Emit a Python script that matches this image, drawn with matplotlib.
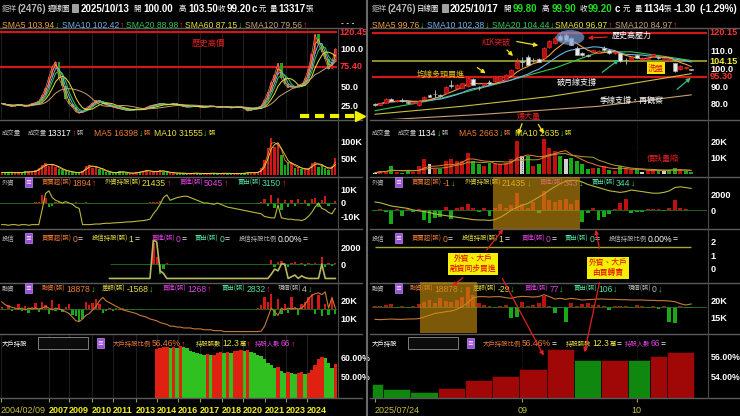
import numpy as np
import pandas as pd
import matplotlib
matplotlib.use("Agg")
import matplotlib.pyplot as plt
from matplotlib.patches import Rectangle, Ellipse, FancyArrowPatch
from matplotlib.lines import Line2D
import matplotlib.transforms as mtrans

# ---------------- weekly chart (left), one sample per ~10 weeks ----------------
wk_close = [27, 25, 24, 23, 25, 26, 24, 23, 25, 27,
            28, 30, 38, 47, 62, 75, 82, 60, 50, 33,
            26, 22, 16, 14, 17, 21, 24, 28, 31, 30,
            27, 25, 24, 22, 21, 20, 19, 18, 18, 19,
            20, 19, 20, 22, 24, 25, 26, 27, 26, 25,
            26, 27, 25, 24, 23, 22, 23, 24, 23, 22,
            22, 23, 24, 23, 22, 22, 23, 22, 21, 22,
            23, 22, 20, 17, 19, 21, 22, 24, 32, 42,
            55, 65, 80, 60, 52, 48, 50, 47, 51, 50,
            60, 72, 92, 118, 105, 95, 85, 72, 82, 99.2]
wk_vol = [8, 6, 10, 7, 5, 9, 6, 12, 8, 10,
          14, 20, 30, 35, 28, 33, 25, 18, 15, 12,
          10, 8, 6, 9, 12, 28, 30, 22, 25, 18,
          14, 10, 8, 6, 7, 12, 8, 6, 5, 6,
          8, 10, 12, 15, 10, 8, 12, 14, 10, 8,
          7, 6, 5, 6, 5, 4, 5, 6, 5, 4,
          5, 4, 6, 5, 4, 5, 6, 4, 5, 4,
          4, 5, 6, 8, 7, 6, 9, 20, 45, 80,
          110, 85, 95, 60, 30, 40, 35, 20, 25, 18,
          15, 20, 35, 40, 25, 30, 20, 15, 28, 50]
wk_fi_hold = [-16, -16, -16.5, -16, -16, -16.5, -16, -16, -16.5, -16,
              -16, -16, -5, 7, 9, 4, 2, 1, 0, 1,
              0, -1, -3, -4, -16, -16, -16, -15.8, -15.5, -15.6,
              -15.2, -15, -15, -14.8, -14.6, -14.5, -14.3, -14, -14, -13.8,
              -13.5, -13.2, -13, -12.6, -12, -8, -5, -1, 4, 6,
              2, 3, 4, 4.5, 5, 5, 4, 3, 2, 1,
              0, 0, -0.5, -1, 0, -1, -2, -3, -3.5, -4,
              -4.5, -5, -5.5, -6, -6.5, -7, -7.5, -8, -10, -10.5,
              -11, -11, -1.5, -11, -11.5, -12, -12, -12.5, -12.5, -13,
              -12, -10, -7, -3, 0, -4, -5, -7, -8, -4]
wk_fi_net = [0.2, -0.1, 0.3, -0.2, 0.1, 0.2, -0.1, 0.1, 0.2, -0.2,
             0.5, 1, 6, 4, -3, -2, 1, 0.5, -0.5, 0.3,
             0.2, -0.3, 0.4, -0.2, 0.3, 0.5, -0.4, 0.2, 0.3, -0.2,
             0.1, 0.2, -0.1, 0.1, 0.2, -0.1, 0.1, 0.1, -0.1, 0.2,
             0.1, 0.3, -0.2, 0.2, 0.4, 0.6, 1, 1.5, -0.5, 0.3,
             0.2, -0.2, 0.1, 0.2, -0.1, 0.1, 0.1, -0.1, 0.1, 0.1,
             0.1, -0.1, 0.1, 0.1, -0.1, 0.1, 0.1, -0.1, 0.1, 0.1,
             0.2, -0.2, 0.3, -0.3, 0.2, 0.3, -0.5, 1, 3, -2,
             6, -4, 4, -5, 2, -3, 2, -2, 3, -1,
             2, -2, 3, 4, -3, 2, 5, -2, -1, 1.5]
wk_it_start = 32
wk_it_hold = [-1700, -1700, -1700, -1700, -1700, -1700, -1700, -1700, -1700, -1700,
              -1700, -1700, -1700, 2800, 2600, -800, -1100, -1700, -1700, -1700,
              -1700, -1700, -1700, -1700, -1700, -1700, -1700, -1700, -1700, -1700,
              -1700, -1700, -1700, -1700, -1700, -1700, -1700, -1700, -1700, -1700,
              -1700, -1700, -1700, -1700, -1700, -1700, -1700, -1700, -1200, -600,
              -800, 0, 0, -1700, -1500, -1300, -1700, -1400, -1600, -1700,
              -1700, -1700, -1700, 0, -1700, -1700, -1700, -1700]
wk_it_net = [50, -30, 20, 0, 30, -20, 0, 10, -10, 0, 20, -30, 40,
             2500, 800, -1200, -600, 100,
             0, 20, -10, 0, 0, 10, 0, -20, 0, 10, 0, 0, 10, -10, 0,
             0, 20, 0, -10, 0, 0, 10, 0, 0, -10, 0, 20, 0, -30, 50,
             500, -300, 200, 400, -200, -400, 100, 200, -100, 150,
             -200, 100, -150, 100, 50, 800, -300, 100, -200, 100]
wk_mg_bal = [19.5, 18, 17, 16.5, 16, 15.5, 16, 15, 16, 15.5,
             16, 15.5, 16, 17, 16, 15, 16, 15.5, 15, 14,
             13, 11, 9, 8.5, 10, 12, 13, 15, 17, 20,
             22, 20, 19, 18, 17, 16, 15, 14.5, 14, 13.5,
             13, 12, 11.5, 11, 10, 9.5, 9, 8, 7.5, 7,
             6, 6, 5.5, 5.5, 5, 5, 5, 4.5, 4.5, 4.5,
             4, 4, 4, 3.5, 3.5, 3.5, 3, 3, 3, 3,
             3, 3, 3, 3, 3, 3, 3, 3.2, 6, 11,
             16, 14, 12, 16, 15, 16, 15.5, 16, 15.5, 16,
             18, 21, 23, 24, 24.5, 23.5, 25, 16, 22, 16]
wk_mg_net = [0.5, -0.3, 0.8, -0.5, 0.3, 1.0, -0.4, 0.6, -0.8, 0.4,
             1.2, -0.6, 1.5, 0.8, -1.0, 1.8, -0.5, 1.0, -0.7, 0.5,
             1.0, -1.2, -1.5, -2.5, -2.0, 1.5, 0.8, 1.2, 2.0, 1.0,
             -0.8, -0.5, 0.3, -0.4, 0.2, -0.3, 0.2, -0.2, 0.1, -0.2,
             0.1, -0.2, 0.1, -0.1, 0.1, -0.1, 0.1, -0.1, 0.1, -0.1,
             0.1, -0.1, 0.1, -0.1, 0.05, -0.1, 0.05, -0.05, 0.05, -0.05,
             0.05, -0.05, 0.05, -0.05, 0.05, -0.05, 0.05, -0.05, 0.05, -0.05,
             0.05, -0.05, 0.05, -0.1, 0.1, -0.1, 0.2, 0.8, 2.5, 1.5,
             3.0, -1.5, 2.0, -1.0, 1.0, -0.8, 2.5, 0.5, -1.2, 1.0,
             1.5, 2.5, 3.0, -1.0, 2.8, -1.5, 1.0, -1.2, 2.0, -1.0]
wk_big_start = 46
wk_big = [64, 64.5, 65, 65, 64.5, 65, 64.5, 65.5, 65, 64.5,
          63, 62.5, 62, 61.5, 61, 61.5, 61, 61, 62, 62.5,
          62, 62.5, 62, 63, 63, 63.5, 63, 63.5, 62.5, 62,
          61, 60.5, 59, 57, 56, 54.5, 55, 53, 52, 52.5,
          52, 51.5, 52, 52.5, 51.5, 52, 53.5, 56, 59, 60,
          59.5, 57, 54.5, 56.46]
wk_ticks = [-0.2, 14.0, 20.0, 26.8, 33.0, 39.8, 46.1, 52.3, 58.8, 65.4, 71.6, 78.1, 84.4, 90.6]
wk_tick_labels = ['2004/02/09', '2007', '2009', '2010', '2011', '2013', '2014',
                  '2016', '2017', '2018', '2020', '2021', '2023', '2024']

# ---------------- daily chart (right), 2025/07/24 - 2025/10/17 ----------------
d_open = [79.6, 79.4, 80.4, 82.8, 81.3, 82.3, 81.2, 80.2, 79.2, 82.5,
          85.0, 85.5, 84.8, 86.0, 90.8, 88.9, 89.0, 89.8, 94.2, 89.1,
          90.4, 92.2, 92.6, 92.6, 93.6, 96.3, 100.0, 104.2, 106.6, 104.8,
          105.3, 105.9, 111.9, 114.4, 118.1, 119.0, 117.2, 111.5, 108.9, 107.5,
          109.5, 108.9, 111.7, 110.4, 108.7, 108.7, 104.9, 104.8, 107.5, 105.2,
          105.5, 106.8, 106.6, 104.8, 104.7, 103.0, 99.6, 100.0, 99.8]
d_high = [80.3, 80.6, 83.2, 83.0, 82.2, 83.0, 81.5, 81.0, 82.0, 84.3,
          85.5, 88.0, 85.6, 89.8, 93.6, 91.0, 91.8, 95.0, 94.6, 90.0,
          91.8, 93.6, 94.8, 95.8, 96.6, 99.5, 106.0, 106.6, 107.5, 106.0,
          105.8, 112.0, 116.0, 118.5, 119.2, 120.3, 118.0, 112.5, 109.5, 108.2,
          110.6, 110.3, 112.5, 110.8, 109.6, 109.0, 106.0, 106.8, 108.0, 106.2,
          106.3, 108.2, 106.9, 105.9, 105.5, 103.3, 101.8, 101.0, 99.9]
d_low = [78.8, 79.0, 80.2, 81.3, 81.0, 81.2, 80.2, 79.8, 78.5, 82.0,
         83.6, 83.0, 84.0, 85.8, 88.9, 88.5, 88.8, 89.5, 90.5, 88.0,
         90.0, 91.0, 92.3, 92.4, 93.3, 96.0, 99.8, 101.0, 101.8, 103.5,
         103.5, 105.5, 111.5, 114.0, 115.5, 115.8, 113.0, 107.3, 107.0, 106.5,
         109.0, 108.5, 110.0, 108.2, 108.4, 103.8, 102.5, 104.5, 105.6, 105.0,
         105.2, 106.5, 105.5, 104.5, 104.4, 98.0, 99.3, 99.7, 98.9]
d_close = [79.4, 80.3, 82.8, 81.7, 81.9, 81.6, 80.5, 80.8, 81.7, 84.0,
           84.0, 85.3, 84.4, 89.3, 90.2, 90.7, 91.5, 94.5, 90.8, 88.9,
           91.5, 91.3, 94.5, 95.5, 96.3, 99.1, 103.8, 103.8, 102.0, 104.5,
           103.8, 111.5, 115.3, 117.2, 116.2, 116.2, 113.4, 107.7, 107.3, 107.1,
           110.2, 110.0, 110.4, 108.5, 109.3, 104.0, 104.6, 106.5, 105.9, 105.9,
           106.0, 107.9, 105.7, 105.7, 105.3, 98.3, 101.5, 100.8, 99.2]
d_vol = [1.0, 2.0, 2.0, 5.0, 1.5, 1.0, 2.5, 1.5, 5.0, 9.0,
         6.0, 3.0, 3.0, 8.0, 9.0, 8.0, 8.0, 13.0, 8.0, 6.0,
         5.0, 7.0, 6.0, 6.0, 7.0, 9.0, 20.0, 11.0, 11.0, 5.0,
         6.0, 21.0, 16.0, 14.0, 11.0, 9.0, 10.0, 8.0, 6.0, 3.5,
         4.0, 4.0, 5.0, 2.5, 2.0, 5.0, 3.0, 2.5, 3.0, 1.5,
         2.0, 3.0, 2.5, 2.0, 2.0, 4.0, 3.0, 2.0, 1.134]
d_fi_net = [-100, 100, -200, -1700, 100, -700, 150, -200, 100, -1300,
            -1600, -1000, -900, 400, -1100, 300, 400, 700, 300, -300,
            300, -800, 200, 700, 300, 600, 2100, 700, 300, 1000,
            -400, 2400, 1300, 1000, 1200, 1400, 700, 1300, -1500, -400,
            300, -1200, -900, -500, 100, 900, 1400, -400, -300, -200,
            100, 150, 100, -100, 200, 1300, 200, 100, -1]
d_fi_hold = [1000, 900, 700, 500, 400, 300, 200, 0, -100, -200, -300,
             -500, -600, -700, -800, -900, -1000, -1100, -1200, -1250, -1250, -1300,
             -1200, -900, -500, 0, 300, 600, 800, 1200, 1600, 2000, 2500,
             2900, 3300, 3600, 3700, 3700, 3500, 3200, 3000, 2800, 2600, 2400,
             2300, 2200, 2300, 2500, 2400, 2300, 2200, 2100, 2100, 2200, 2400, 2800, 2900, 2800, 2700]
d_it_hold = 1.6
d_mg_bal = [14.5, 14.4, 14.5, 14.6, 14.5, 14.5, 14.6, 14.6,
            14.7, 15.2, 15.7, 16.3, 16.5, 16.8, 17, 17.5, 18.3, 19.5, 21,
            21.3, 21.3, 21.2, 21.3, 21.3, 21, 20.8, 21.2, 21.4, 21.3, 21.2, 21.3,
            21.9, 21.3, 20.6, 20.8, 20.5, 20.8, 20.6, 20.3, 20.4, 20.5,
            20.6, 20.6, 20.5, 20.5, 20.4, 20.4, 20.3, 20.3, 20.3, 20.2,
            20.2, 20.1, 20.1, 20, 19.8, 19.2, 18.8, 19.1]
d_mg_net = [0.3, 0.2, 0.5, 0.8, -0.3, 0.3, -0.3, 0.2, 0.8, 1.5,
            2, 1.2, 2.5, 1.8, 1.5, 2, 3, 6, 3.5, 1,
            0.5, 0.3, -0.3, 0.3, 0.4, -3.5, -3, 1.5, 0.3, 0.5,
            1, 3.3, 0.3, -2, -0.3, -4.5, 1, 0.3, 0.8, 1,
            0.5, 0.5, 0.3, -1, 0.3, 0.3, 0.3, -0.3, 0.5, 0.3,
            -0.3, 0.2, -0.8, 0.3, -4.5, -5, 0.3, -0.3, -0.5]
sma20_i = [0, 11, 23, 33, 41, 47, 53, 58]
sma20_v = [76.0, 82.2, 91.7, 100.2, 109.2, 109.4, 106.8, 104.44]
sma60_i = [0, 16, 32, 44, 58]
sma60_v = [74.0, 78.5, 84.0, 89.8, 96.97]
sma120_i = [0, 20, 41, 58]
sma120_v = [70.5, 74.0, 78.5, 84.97]
big_week_start = [0, 2, 7, 12, 17, 22, 27, 32, 37, 42, 47, 51, 54]
big_week_days = [2, 5, 5, 5, 5, 5, 5, 5, 5, 5, 4, 3, 5]
big_week_val = [53.3, 52.8, 52.5, 52.9, 53.7, 54.1, 54.8, 56.8, 55.70, 55.72, 55.68, 56.1, 56.46]
d_ticks = [0, 27, 48]
d_tick_labels = ['2025/07/24', '09', '10']

# ---------------- styling ----------------
W, H = 740, 416
NUM = ['Liberation Sans Narrow', 'Liberation Sans', 'Noto Sans CJK TC', 'DejaVu Sans']
CJK = ['Noto Sans CJK TC', 'DejaVu Sans']
WH, GY, RD, GN = '#ffffff', '#b8b8b8', '#ff2828', '#20e020'
OR, YL, MG, TL = '#ee7a34', '#e8e040', '#e040e0', '#50e0a0'
UPC, DNC = '#d01818', '#18a818'

fig = plt.figure(figsize=(7.4, 4.16), dpi=100, facecolor='black')
renderer = fig.canvas.get_renderer()


def fx(x):
    return x / W


def fy(y):
    return 1 - y / H


def is_cjk(s):
    return any(ord(ch) > 0x2E00 for ch in s)


def put(x, y, s, c, size=None, bold=False, **kw):
    cj = is_cjk(s)
    if size is None:
        size = 4.6 if cj else 6.2
    return fig.text(fx(x), fy(y), s, color=c, fontsize=size, family=CJK if cj else NUM,
                    fontweight='bold' if bold else 'normal', ha='left', va='center_baseline', **kw)


def group(x, y, parts, big=False):
    for s, c in parts:
        if big:
            t = put(x, y, s, c, size=5.4 if is_cjk(s) else 7.0, bold=not is_cjk(s))
        else:
            t = put(x, y, s, c)
        x += t.get_window_extent(renderer).width + 0.5


def right_ticks(ax):
    ax.yaxis.tick_right()
    ax.tick_params(axis='y', length=0, pad=2.5, labelsize=6.6, labelcolor='white')


def panel(x0, x1, y0, y1):
    ax = fig.add_axes([fx(x0), fy(y1), (x1 - x0) / W, (y1 - y0) / H])
    ax.set_facecolor('black')
    for s in ax.spines.values():
        s.set_visible(False)
    ax.tick_params(axis='x', bottom=False, labelbottom=False)
    right_ticks(ax)
    return ax


def ylab(ax, vals, labels, size=6.6):
    ax.set_yticks(vals, labels)
    for t in ax.get_yticklabels():
        t.set_family(NUM)
        t.set_fontweight('bold')
        t.set_fontsize(size)


def side_label(ax, val, s, c):
    tr = mtrans.blended_transform_factory(ax.transAxes, ax.transData)
    ax.text(1.008, val, s, color=c, transform=tr, fontsize=6.6, family=NUM,
            fontweight='bold', va='center', ha='left', clip_on=False)


def arrow(p0, p1, c, lw=0.9, ms=6):
    fig.add_artist(FancyArrowPatch((fx(p0[0]), fy(p0[1])), (fx(p1[0]), fy(p1[1])),
                                   transform=fig.transFigure, arrowstyle='-|>',
                                   mutation_scale=ms, color=c, lw=lw, zorder=12))


def icon(x, y):
    fig.add_artist(Rectangle((fx(x), fy(y + 5)), 7 / W, 10 / H, transform=fig.transFigure,
                             facecolor='#9a50d8', edgecolor='#c090f0', lw=0.5, zorder=4))
    fig.text(fx(x + 3.5), fy(y), '≡', color='white', fontsize=5, ha='center', va='center', zorder=5)


PY = [(29, 119), (121, 176), (178, 228), (230, 282), (284, 333), (335, 398)]
LX, RX = (0, 337), (372, 707)

# ================= LEFT: weekly =================
n = len(wk_close)
xw = np.arange(n)
cw = np.array(wk_close, float)
prev = np.r_[cw[0], cw[:-1]]
up_w = cw >= prev

axp = panel(LX[0], LX[1], *PY[0])
axp.set_xlim(-0.5, n - 0.5)
axp.set_ylim(6.6, 125)
for t in wk_ticks:
    axp.axvline(t, color='#262626', lw=0.6)
axp.axhline(120.45, color='#d01818', lw=1.6)
axp.axhline(75.40, color='#d01818', lw=1.6)
hgt = np.where(np.abs(cw - prev) < 0.4, 0.4, cw - prev)
axp.bar(xw, hgt, bottom=prev, width=0.75, color=np.where(up_w, UPC, DNC), lw=0, zorder=3)
axp.plot(xw, cw, color='#e88080', lw=0.5, zorder=3)
s = pd.Series(cw)
for w, col in zip([2, 3, 4, 6, 12], ['#f0a040', '#70b0e8', '#30c850', '#e8e040', '#c8a070']):
    axp.plot(xw, s.rolling(w, min_periods=1).mean(), color=col, lw=0.7, zorder=4)
ylab(axp, [100, 50, 25], ['100.0', '50.0', '25.0'])
side_label(axp, 120.45, '120.45', '#ff3030')
side_label(axp, 75.40, '75.40', '#ff3030')
axp.text(0.57, 106, '歷史高價', color='#e02020', fontsize=6, family=CJK, va='center',
         transform=mtrans.blended_transform_factory(axp.transAxes, axp.transData))

axv = panel(LX[0], LX[1], *PY[1])
axv.set_xlim(-0.5, n - 0.5)
axv.set_ylim(-3, 162)
axv.bar(xw, wk_vol, width=0.7, color=np.where(up_w, UPC, DNC), lw=0)
sv = pd.Series(wk_vol, dtype=float)
axv.plot(xw, sv.rolling(2, min_periods=1).mean(), color=OR, lw=0.6)
axv.plot(xw, sv.rolling(3, min_periods=1).mean(), color=YL, lw=0.6)
ylab(axv, [100, 50], ['100K', '50K'])

axf = panel(LX[0], LX[1], *PY[2])
axf.set_xlim(-0.5, n - 0.5)
axf.set_ylim(-18.5, 18.5)
axf.axhline(0, color='#1e7a1e', lw=0.6)
fn = np.array(wk_fi_net)
axf.bar(xw, fn, width=0.7, color=np.where(fn > 0, UPC, DNC), lw=0)
axf.plot(xw, wk_fi_hold, color='#b8b840', lw=0.8)
ylab(axf, [10, 0, -10], ['10K', '0', '-10K'])

axi = panel(LX[0], LX[1], *PY[3])
axi.set_xlim(-0.5, n - 0.5)
axi.set_ylim(-2117, 4000)
xi = np.arange(wk_it_start, wk_it_start + len(wk_it_hold))
inet = np.array(wk_it_net)
axi.hlines(0, xi[0], xi[-1], color='#1e7a1e', lw=0.6)
axi.bar(xi, inet, width=0.7, color=np.where(inet > 0, UPC, DNC), lw=0)
axi.plot(xi, wk_it_hold, color='#b8b860', lw=1.2)
ylab(axi, [2000, 0], ['2000', '0'])

axm = panel(LX[0], LX[1], *PY[4])
axm.set_xlim(-0.5, n - 0.5)
axm.set_ylim(2.2, 29.4)
axm2 = axm.twinx()
axm2.set_ylim(-4.9, 5.1)
axm2.axis('off')
mn = np.array(wk_mg_net)
axm2.axhline(0, color='#1e7a1e', lw=0.6)
axm2.bar(xw, mn, width=0.7, color=np.where(mn > 0, UPC, DNC), lw=0)
axm.set_zorder(axm2.get_zorder() + 1)
axm.patch.set_visible(False)
axm.plot(xw, wk_mg_bal, color='#c87838', lw=0.8)
right_ticks(axm)
ylab(axm, [20, 10], ['20K', '10K'])

axb = panel(LX[0], LX[1], *PY[5])
axb.set_xlim(-0.5, n - 0.5)
axb.set_ylim(39.5, 71)
xb = np.arange(wk_big_start, wk_big_start + len(wk_big))
bv = np.array(wk_big)
bprev = np.r_[bv[0] - 1, bv[:-1]]
axb.bar(xb, bv, width=1.0, color=np.where(bv >= bprev, '#e02010', '#30c020'), lw=0)
for t in wk_ticks:
    axb.axvline(t, color='#262626', lw=0.6, zorder=0)
ylab(axb, [60, 50], ['60.00%', '50.00%'], size=6.3)
axb.set_xticks(wk_ticks, wk_tick_labels)
axb.tick_params(axis='x', bottom=True, labelbottom=True, length=3, color='#90a050',
                labelsize=6.5, labelcolor='#f0f020', pad=3)
for i, t in enumerate(axb.get_xticklabels()):
    t.set_family(NUM)
    t.set_ha('left')
    t.set_fontweight('normal' if i == 0 else 'bold')
    if i == 0:
        t.set_color('#c8c040')

# ================= RIGHT: daily =================
m = len(d_close)
xd = np.arange(m)
o, hi, lo, c = (np.array(a, float) for a in (d_open, d_high, d_low, d_close))
XL = (-0.55, 60.9)

arp = panel(RX[0], RX[1], *PY[0])
arp.set_xlim(*XL)
arp.set_ylim(71.3, 122.3)
for t in d_ticks[1:]:
    arp.axvline(t, color='#2e2e2e', lw=0.6, ls=':')
arp.axhline(120.15, color='#d01818', lw=1.6)
arp.axhline(95.30, color='#d01818', lw=1.6)
arp.axhline(104.15, color='#a8a830', lw=1.2)
arp.plot(sma120_i, sma120_v, color='#c8a070', lw=0.8)
arp.plot(sma60_i, sma60_v, color='#c8c040', lw=0.8)
arp.plot(sma20_i, sma20_v, color='#30c850', lw=0.8)
sc = pd.Series(c)
arp.plot(xd, sc.rolling(10, min_periods=1).mean(), color='#70b0e8', lw=0.8)
arp.plot(xd, sc.rolling(5, min_periods=1).mean(), color='#f0a040', lw=0.8)
upd = c >= o
edge = np.where(upd, '#ff3030', '#b0b0b0')
arp.vlines(xd, lo, hi, color=edge, lw=0.7, zorder=3)
arp.bar(xd, np.maximum(np.abs(c - o), 0.2), bottom=np.minimum(o, c), width=0.72,
        color=np.where(upd, '#b81010', '#e8e8e8'), edgecolor=edge, lw=0.4, zorder=4)
arp.add_patch(Ellipse((35.8, 117.5), 5.2, 8.5, facecolor='#7a9ad0', alpha=0.7, lw=0, zorder=5))
ylab(arp, [110, 100, 90, 80], ['110.0', '100.0', '90.0', '80.0'])
side_label(arp, 120.15, '120.15', '#ff3030')
side_label(arp, 104.15, '104.15', '#f0f040')
side_label(arp, 95.30, '95.30', '#ff3030')

arv = panel(RX[0], RX[1], *PY[1])
arv.set_xlim(*XL)
arv.set_ylim(-1, 32)
for t in d_ticks[1:]:
    arv.axvline(t, color='#2e2e2e', lw=0.6, ls=':')
cprev = np.r_[c[0], c[:-1]]
vcol = np.where(c > cprev, '#c01010', np.where(c < cprev, '#18a818', '#d0d0d0'))
arv.bar(xd, d_vol, width=0.72, color=vcol, lw=0)
svd = pd.Series(d_vol)
arv.plot(xd, svd.rolling(5, min_periods=1).mean(), color=OR, lw=0.7)
arv.plot(xd, svd.rolling(10, min_periods=1).mean(), color='#b0a030', lw=0.7)
ylab(arv, [20, 10], ['20K', '10K'])

arf = panel(RX[0], RX[1], *PY[2])
arf.set_xlim(*XL)
arf.set_ylim(-2250, 4000)
arf.axhline(0, color='#1e7a1e', lw=0.6)
fdn = np.array(d_fi_net)
arf.bar(xd, fdn, width=0.72, color=np.where(fdn > 0, '#c01010', '#18a818'), lw=0)
arf.plot(xd, d_fi_hold, color='#b8b840', lw=0.8)
ylab(arf, [2000, 0], ['2000', '0'])

ari = panel(RX[0], RX[1], *PY[3])
ari.set_xlim(*XL)
ari.set_ylim(-1.03, 2.88)
ari.hlines(d_it_hold, 0, m - 1, color='#a8a830', lw=1.0)
ylab(ari, [2, 1, 0], ['2', '1', '0'])

arm = panel(RX[0], RX[1], *PY[4])
arm.set_xlim(*XL)
arm.set_ylim(10.4, 25.1)
arm2 = arm.twinx()
arm2.set_ylim(-7.9, 6.8)
arm2.axis('off')
arm2.axhline(0, color='#1e7a1e', lw=0.6)
mdn = np.array(d_mg_net)
arm2.bar(xd, mdn, width=0.72, color=np.where(mdn > 0, '#c01010', '#18a818'), lw=0)
arm.set_zorder(arm2.get_zorder() + 1)
arm.patch.set_visible(False)
arm.plot(xd, d_mg_bal, color='#c87838', lw=0.8)
right_ticks(arm)
ylab(arm, [20, 15], ['20K', '15K'])

arb = panel(RX[0], RX[1], *PY[5])
arb.set_xlim(*XL)
arb.set_ylim(51.87, 58.17)
bs = np.array(big_week_start)
bd = np.array(big_week_days)
bw = np.array(big_week_val)
bwp = np.r_[bw[0] + 1, bw[:-1]]
arb.bar(bs + (bd - 1) / 2, bw, width=bd, color=np.where(bw >= bwp, '#a00808', '#108810'),
        edgecolor='#000000', lw=0.4)
for t in d_ticks[1:]:
    arb.axvline(t, color='#2e2e2e', lw=0.6, ls=':', zorder=0)
ylab(arb, [56, 54], ['56.00%', '54.00%'], size=6.3)
arb.set_xticks(d_ticks, d_tick_labels)
arb.tick_params(axis='x', bottom=True, labelbottom=True, length=3, color='#90a050',
                labelsize=6.5, labelcolor='#c8c040', pad=3)
for i, t in enumerate(arb.get_xticklabels()):
    t.set_family(NUM)
    if i == 0:
        t.set_ha('left')

# ---------------- frames ----------------
for y in [28, 120, 177, 229, 283, 334, 398]:
    fig.add_artist(Line2D([0, fx(362)], [fy(y), fy(y)], color='#5a5a5a', lw=1, zorder=2))
    fig.add_artist(Line2D([fx(370), 1], [fy(y), fy(y)], color='#5a5a5a', lw=1, zorder=2))
for x in [337.5, 707.5]:
    fig.add_artist(Line2D([fx(x), fx(x)], [fy(28), fy(398)], color='#4a4a4a', lw=0.8, zorder=2))
fig.add_artist(Line2D([fx(367), fx(367)], [0, 1], color='#6a6a6a', lw=1.5, zorder=2))

# ---------------- header texts ----------------
for x0 in (0, 370):
    fig.add_artist(Rectangle((fx(x0 + 72), fy(12)), 6 / W, 8 / H, transform=fig.transFigure,
                             facecolor='#a0a0a0', edgecolor='#e0e0e0', lw=0.4, zorder=4))

title_l = [(2, [('鉅祥', GY), ('(2476)', GY)]), (48, [('週線圖', WH)]), (81, [('2025/10/13', WH)]),
           (133, [('開', WH)]), (143, [('100.00', WH)]), (179, [('高', WH)]), (188, [('103.50', WH)]),
           (218, [('收', WH)]), (227, [('99.20', WH)]), (252, [('c', WH)]), (259, [('元', WH)]),
           (270, [('量', WH)]), (278, [('13317', WH)]), (306, [('張', WH)])]
title_r = [(372, [('鉅祥', GY), ('(2476)', GY)]), (417, [('日線圖', WH)]), (450, [('2025/10/17', WH)]),
           (503, [('開', WH)]), (513, [('99.80', GN)]), (542, [('高', WH)]), (552, [('99.90', GN)]),
           (580, [('收', WH)]), (588, [('99.20', GN)]), (615, [('c', WH)]), (623, [('元', WH)]),
           (635, [('量', WH)]), (643, [('1134', WH)]), (664, [('張', WH)]), (674, [('-1.30', WH)]),
           (699, [('(-1.29%)', WH)])]
for x, parts in title_l + title_r:
    group(x, 8, parts, big=True)

C5, C10, C20, C60, C120 = '#f0a040', '#70b0e8', '#30c850', '#e8e040', '#c8a070'
sma_l = [(2, [('SMA5 103.94', C5), ('↓', GN)]), (62, [('SMA10 102.42', C10), ('↑', RD)]),
         (126, [('SMA20 88.98', C20), ('↑', RD)]), (185, [('SMA60 87.15', C60), ('↓', GN)]),
         (245, [('SMA120 79.56', C120), ('↑', RD)])]
sma_r = [(372, [('SMA5 99.76', C5), ('↓', GN)]), (427, [('SMA10 102.38', C10), ('↓', GN)]),
         (492, [('SMA20 104.44', C20), ('↓', GN)]), (555, [('SMA60 96.97', C60), ('↑', RD)]),
         (615, [('SMA120 84.97', C120), ('↑', RD)])]
for x, parts in sma_l + sma_r:
    group(x, 24, parts)
put(341, 23, '- - -', WH)

heads = {
    132: [(2, [('成交量', GY)]), (28, [('成交量', GY), ('13317', WH), ('↑', RD), ('張', GY)]),
          (94, [('MA5 16398', OR), ('↓', GN), ('張', OR)]), (154, [('MA10 31555', YL), ('↓', GN), ('張', YL)]),
          (372, [('成交量', GY)]), (398, [('成交量', GY), ('1134', WH), ('↓', GN), ('張', GY)]),
          (459, [('MA5 2663', OR), ('↓', GN), ('張', OR)]), (515, [('MA10 2635', YL), ('↓', GN), ('張', YL)])],
    182: [(2, [('外資', GY)]), (42, [('買賣超(張)', OR), ('1894', OR), ('↑', RD)]),
          (105, [('外資持股(張)', YL), ('21435', YL), ('↑', RD)]), (180, [('買進(張)', MG), ('5045', MG), ('↑', RD)]),
          (238, [('賣出(張)', TL), ('3150', TL), ('↑', RD)]),
          (372, [('外資', GY)]), (412, [('買賣超(張)', OR), ('-1', OR), ('↓', GN)]),
          (465, [('外資持股(張)', YL), ('21435', YL), ('↓', GN)]), (540, [('買進(張)', MG), ('343', MG), ('↓', GN)]),
          (592, [('賣出(張)', TL), ('344', TL), ('↓', GN)])],
    238: [(2, [('投信', GY)]), (42, [('買賣超(張)', OR), ('0', OR), ('=', WH)]),
          (92, [('投信持股(張)', YL), ('1', YL), ('=', WH)]), (152, [('買進(張)', MG), ('0', MG), ('=', WH)]),
          (195, [('賣出(張)', TL), ('0', TL), ('=', WH)]), (239, [('投信持股比例', GY), ('0.00%', WH), ('=', WH)]),
          (372, [('投信', GY)]), (412, [('買賣超(張)', OR), ('0', OR), ('=', WH)]),
          (462, [('投信持股(張)', YL), ('1', YL), ('=', WH)]), (522, [('買進(張)', MG), ('0', MG), ('=', WH)]),
          (565, [('賣出(張)', TL), ('0', TL), ('=', WH)]), (609, [('投信持股比例', GY), ('0.00%', WH), ('=', WH)])],
    288: [(2, [('融資', GY)]), (42, [('融資(張)', OR), ('18878', OR), ('↓', GN)]),
          (102, [('差額(張)', YL), ('-1568', YL), ('↓', GN)]), (163, [('買進(張)', MG), ('1268', MG), ('↑', RD)]),
          (222, [('賣出(張)', TL), ('2832', TL), ('↑', RD)]), (278, [('現償(張)', GY), ('4', GY), ('↓', GN)]),
          (372, [('融資', GY)]), (410, [('融資(張)', OR), ('18878', OR), ('↓', GN)]),
          (473, [('差額(張)', YL), ('-29', YL), ('↓', GN)]), (525, [('買進(張)', MG), ('77', MG), ('↓', GN)]),
          (574, [('賣出(張)', TL), ('106', TL), ('↓', GN)]), (628, [('現償(張)', GY), ('0', GY), ('↓', GN)])],
    343: [(2, [('大戶持股', WH)]), (113, [('大戶持股比例', OR), ('56.46%', OR), ('↑', RD)]),
          (196, [('持股張數', YL), ('12.3', YL), ('萬', YL), ('↑', RD)]), (255, [('持股人數', MG), ('66', MG), ('↑', RD)]),
          (372, [('大戶持股', WH)]), (483, [('大戶持股比例', OR), ('56.46%', OR), ('=', WH)]),
          (566, [('持股張數', YL), ('12.3', YL), ('萬', YL), ('=', WH)]), (625, [('持股人數', MG), ('66', MG), ('=', WH)])],
}
for y, groups in heads.items():
    for x, parts in groups:
        group(x, y, parts)
for x0 in (0, 370):
    for y in (182, 238, 288):
        icon(x0 + 25, y)
    icon(x0 + 97, 343)
    fig.add_artist(Rectangle((fx(x0 + 38), fy(349)), 50 / W, 12 / H, transform=fig.transFigure,
                             facecolor='#0c0c0c', edgecolor='#909090', lw=0.6, zorder=4))
    put(x0 + 40, 343, '400', WH, size=6)
    put(x0 + 83, 343, '▾', GY, size=5)

# ---------------- annotations ----------------
put(482, 41, '紅K突破', '#e02020', size=5.8)
put(417, 73, '均線多頭買進', '#e8c820', size=5.8)
put(517, 115, '爆大量', '#e02020', size=5.8)
put(612, 34, '歷史高壓力', WH, size=5.8)
put(557, 81, '破月線支撐', WH, size=5.8)
put(600, 99, '季線支撐，再觀察', WH, size=5.8)
put(647, 157, '價跌量縮', '#e02020', size=5.8)
fig.text(fx(656), fy(68), '洗盤', color='#e01010', fontsize=5.8, family=CJK, ha='center', va='center',
         zorder=11, bbox=dict(facecolor='#f5e800', edgecolor='none', pad=0.8))
arrow((514, 41), (541, 46), '#f0e020')
arrow((505, 48), (515, 58), '#f0e020')
arrow((475, 66), (488, 75), '#f0e020')
arrow((523, 121), (517, 137), '#f0e020')
arrow((537, 122), (545, 136), '#f0e020')
arrow((610, 37), (585, 38), '#e02020')
arrow((600, 74), (621, 58), '#30c080')
arrow((675, 91), (693, 76), '#30c080')

tr_f = mtrans.blended_transform_factory(arf.transData, fig.transFigure)
fig.add_artist(Rectangle((21.6, fy(229)), 16.0, 52 / H, transform=tr_f,
                         facecolor='#c89010', alpha=0.62, lw=0, zorder=6))
tr_m = mtrans.blended_transform_factory(arm.transData, fig.transFigure)
fig.add_artist(Rectangle((8.3, fy(333)), 10.4, 51 / H, transform=tr_m,
                         facecolor='#c89010', alpha=0.62, lw=0, zorder=6))

fig.text(fx(473), fy(264), '外資、大戶\n融資同步買進', color='#e00000', fontsize=5.6, family=CJK,
         ha='center', va='center', linespacing=1.3, zorder=11,
         bbox=dict(facecolor='#f5f000', edgecolor='none', pad=1.2))
fig.text(fx(608), fy(268), '外資、大戶\n由買轉賣', color='#e00000', fontsize=5.6, family=CJK,
         ha='center', va='center', linespacing=1.3, zorder=11,
         bbox=dict(facecolor='#f5f000', edgecolor='none', pad=1.2))
arrow((485, 252), (505, 227), '#e02020')
arrow((465, 276), (450, 288), '#e02020')
arrow((501, 276), (545, 358), '#e02020')
arrow((600, 251), (595, 227), '#e02020')
arrow((600, 280), (584, 355), '#e02020')

fig.add_artist(Line2D([fx(300), fx(356)], [fy(116), fy(116)], color='#f0f000', lw=3,
                      dashes=(2.2, 1.4), zorder=8))
fig.add_artist(Line2D([fx(360)], [fy(116)], marker='>', markersize=7, color='#f0f000',
                      lw=0, zorder=8))

fig.savefig('out.png', dpi=100, facecolor='black')
